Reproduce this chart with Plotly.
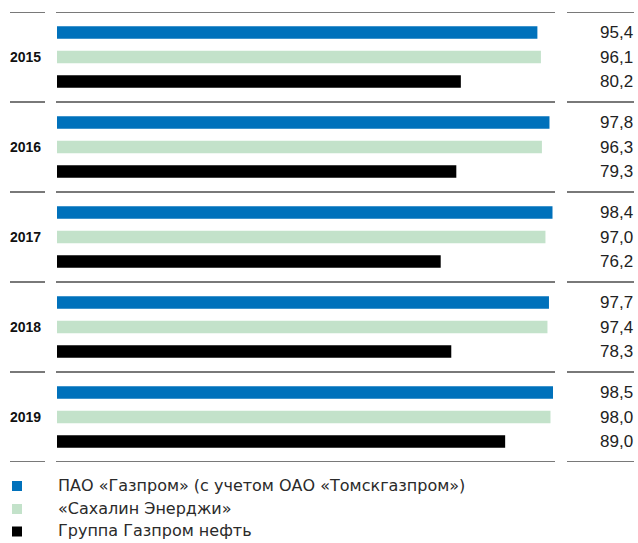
import plotly.graph_objects as go

years = ["2015", "2016", "2017", "2018", "2019"]
series_names = [
    "ПАО «Газпром» (с учетом ОАО «Томскгазпром»)",
    "«Сахалин Энерджи»",
    "Группа Газпром нефть",
]
gazprom = [95.4, 97.8, 98.4, 97.7, 98.5]
sakhalin = [96.1, 96.3, 97.0, 97.4, 98.0]
gazpromneft = [80.2, 79.3, 76.2, 78.3, 89.0]
colors = ["#0071BB", "#C3E2CA", "#000000"]

W, H = 638, 543
T, B = 12, 81
PH = H - T - B
series = [gazprom, sakhalin, gazpromneft]

fig = go.Figure()
for name, vals, col in zip(series_names, series, colors):
    fig.add_trace(go.Bar(
        y=years, x=vals, name=name, orientation="h",
        marker=dict(color=col, line=dict(width=0)),
        hoverinfo="x+y",
    ))

fmt = lambda v: f"{v:.1f}".replace(".", ",")
ann = []
shifts = [24.5, 0, -24.5]
for vals, s in zip(series, shifts):
    for i, v in enumerate(vals):
        ann.append(dict(x=635 / W, xref="paper", y=i, yref="y", yshift=s,
                        text=fmt(v), showarrow=False, xanchor="right",
                        font=dict(size=17, color="#222222",
                                  family="Liberation Sans, Arial, sans-serif")))
for i, yr in enumerate(years):
    ann.append(dict(x=8 / W, xref="paper", y=i, yref="y", text=f"<b>{yr}</b>",
                    showarrow=False, xanchor="left",
                    font=dict(size=14, color="#111111",
                              family="Liberation Sans, Arial, sans-serif")))

shapes = []
for k in range(len(years) + 1):
    yv = k - 0.5
    for x0, x1 in [(10, 45), (56, 555), (567, 634)]:
        shapes.append(dict(type="line", xref="paper", yref="y",
                           x0=x0 / W, x1=x1 / W, y0=yv, y1=yv,
                           line=dict(color="#4d4d4d", width=1.3)))

# legend (drawn manually to match the reference spacing)
def py(p):
    return (H - B - p) / PH

leg_rows = [486, 509, 531.5]
for name, col, cy in zip(series_names, colors, leg_rows):
    shapes.append(dict(type="rect", xref="paper", yref="paper",
                       x0=12 / W, x1=22 / W, y0=py(cy + 5), y1=py(cy - 5),
                       fillcolor=col, line=dict(width=0)))
    ann.append(dict(x=56 / W, xref="paper", y=py(cy - 1), yref="paper",
                    text=name, showarrow=False, xanchor="left", yanchor="middle",
                    font=dict(size=16, color="#2a2a2a",
                              family="DejaVu Sans, sans-serif")))

fig.update_layout(
    width=W, height=H,
    margin=dict(l=0, r=0, t=T, b=B),
    paper_bgcolor="white", plot_bgcolor="white",
    barmode="group", bargap=0.185, bargroupgap=0.49,
    showlegend=False,
    hovermode=False,
    xaxis=dict(domain=[57 / W, 553 / W], range=[0, 98.5], visible=False,
               fixedrange=True),
    yaxis=dict(range=[4.5, -0.5], visible=False, type="category",
               fixedrange=True),
    annotations=ann, shapes=shapes,
)

fig.write_html("out.html", config={"displayModeBar": False},
               post_script="document.body.style.margin='0px';")
